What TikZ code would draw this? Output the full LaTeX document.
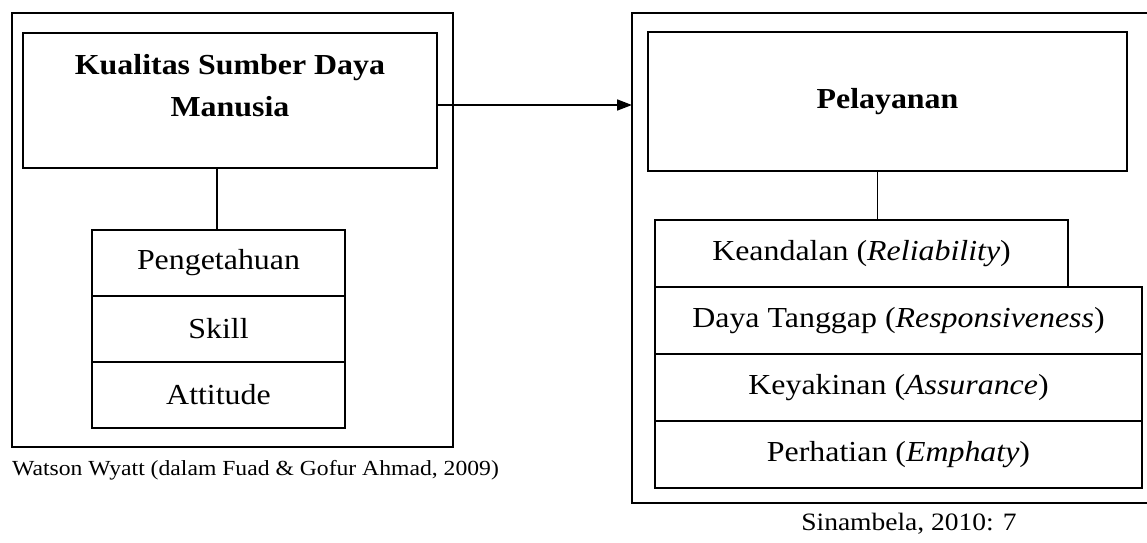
\documentclass[tikz,border=0pt]{standalone}
\usepackage{fontspec}
\setmainfont{Liberation Serif}[FakeStretch=1.1]
\usetikzlibrary{arrows.meta,positioning}

\tikzset{
  frame/.style={draw, line width=1.7pt},
  rowbox/.style={draw, line width=1.7pt, outer sep=0pt, inner sep=0pt,
    minimum height=67pt, font=\fontsize{29}{34}\selectfont},
  narrowrow/.style={rowbox, minimum width=253pt, minimum height=66pt},
  caption/.style={font=\fontsize{#1}{#1}\selectfont, inner sep=0pt}
}

\begin{document}
\begin{tikzpicture}[x=1pt, y=-1pt, >=Triangle]
    \useasboundingbox (0,0) rectangle (1147,542);
    \clip (0,0) rectangle (1147,542);

    % left: kualitas SDM
    \draw[frame] (12,13) rectangle (453,447);
    \node[frame, minimum width=414pt, minimum height=135pt, outer sep=0pt] (ksdm) at (230,100.5) {};
    \node[font=\bfseries\fontsize{29}{42}\selectfont, align=center] (ksdmtext) at (230,86)
        {Kualitas Sumber Daya\\Manusia};

    \node[narrowrow, anchor=north] (tahu) at (218.5,230) {Pengetahuan};
    \node[narrowrow, below=0pt of tahu] (skill) {Skill};
    \node[narrowrow, below=0pt of skill] (sikap) {Attitude};
    \draw[line width=1.7pt] ([xshift=-1.5pt]tahu.north) -- ([xshift=-1.5pt]tahu.north |- ksdm.south);

    \node[caption=21.5, anchor=west] (sumberkiri) at (12,470)
        {Watson Wyatt (dalam Fuad \& Gofur Ahmad, 2009)};

    % right: pelayanan
    \draw[frame] (632,13) rectangle (1165,503);
    \coordinate (kanan) at (632,13);
    \node[frame, minimum width=479pt, minimum height=139pt, outer sep=0pt,
          font=\bfseries\fontsize{29}{34}\selectfont] (pel) at (887.5,101.5) {Pelayanan};

    \node[rowbox, minimum width=413pt, anchor=north west] (andal) at (655,220)
        {Keandalan (\textit{Reliability})};
    \node[rowbox, minimum width=487pt, anchor=north west] (tanggap) at (andal.south west)
        {Daya Tanggap (\textit{Responsiveness})};
    \node[rowbox, minimum width=487pt, below=0pt of tanggap] (yakin)
        {Keyakinan (\textit{Assurance})};
    \node[rowbox, minimum width=487pt, below=0pt of yakin] (perhatian)
        {Perhatian (\textit{Emphaty})};
    \draw[line width=1.7pt] ([xshift=16pt]andal.north) -- ([xshift=16pt]andal.north |- pel.south);

    \node[caption=25] (sumberkanan) at (909,524) {Sinambela, 2010: 7};

    % arrow between the two frames
    \draw[->, line width=1.7pt, -{Triangle[length=15pt,width=11pt]}]
        ([yshift=-4.5pt]ksdm.east) -- ([yshift=-4.5pt]ksdm.east -| kanan);
\end{tikzpicture}
\end{document}
